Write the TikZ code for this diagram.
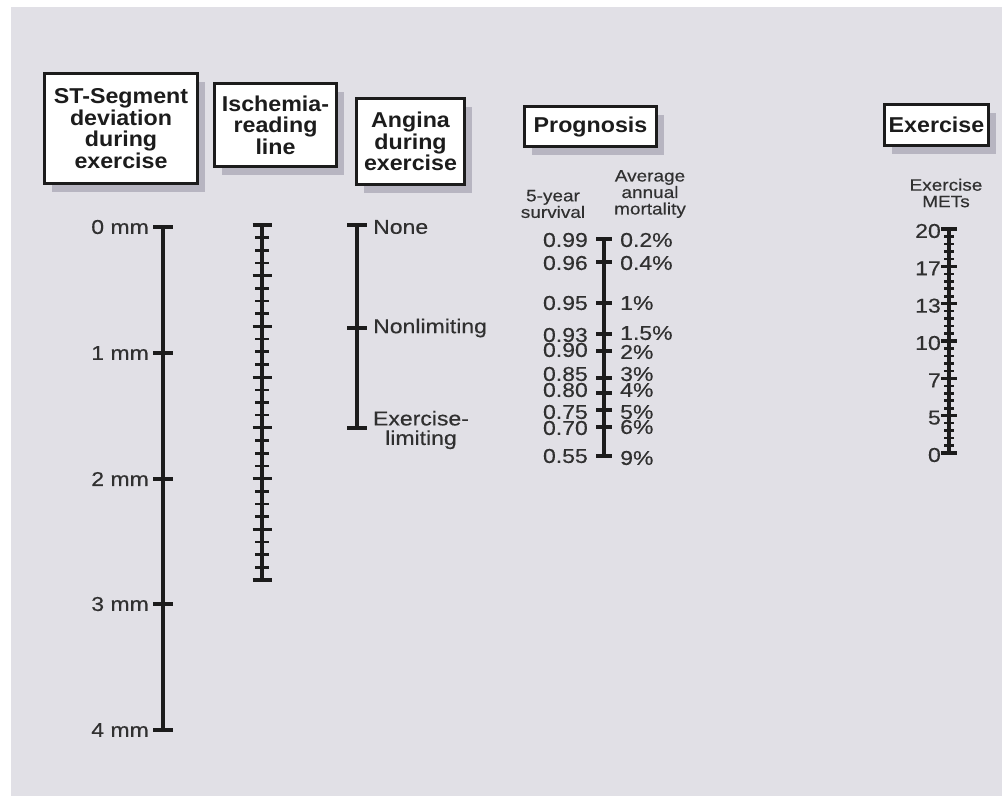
\documentclass[tikz,border=0pt]{standalone}
\usepackage{fontspec}
\setmainfont{Liberation Sans}[FakeStretch=1.15, FakeBold=0.4]
\newfontfamily\hdfont{Liberation Sans}[FakeStretch=1.08]
\usetikzlibrary{shadows}
\definecolor{panel}{HTML}{E1E0E6}
\definecolor{shade}{HTML}{B7B5C1}
\definecolor{ink}{HTML}{1C1C1C}
\definecolor{labelgray}{HTML}{303030}

\begin{document}
\begin{tikzpicture}[x=1pt,y=-1pt,
  hdbox/.style={draw=ink, line width=3.4pt, fill=white, align=center, inner sep=0pt,
    font=\hdfont\bfseries\fontsize{21.5}{21.5}\selectfont, text=ink,
    drop shadow={shadow xshift=7pt, shadow yshift=-8pt, fill=shade, opacity=1}},
  axis/.style={draw=ink, line width=4.2pt},
  tick/.style={draw=ink, line width=3.2pt},
  mtick/.style={draw=ink, line width=2.6pt},
  lbl/.style={inner sep=0pt, text=labelgray, font=\fontsize{20}{20}\selectfont},
  sub/.style={inner sep=0pt, align=center, text=labelgray, font=\fontsize{16.5}{16.5}\selectfont},
]
\useasboundingbox (0,0) rectangle (1002,796);
\fill[white] (0,0) rectangle (1002,796);
\fill[panel] (11,7) rectangle (1002,796);

% ---- header boxes
\node[hdbox, minimum width=153pt, minimum height=110pt] (hST) at (121,128.5)
  {ST-Segment\\deviation\\during\\exercise};
\node[hdbox, minimum width=122pt, minimum height=83pt] (hIsch) at (275.5,125)
  {Ischemia-\\reading\\line};
\node[hdbox, minimum width=108pt, minimum height=86pt] (hAng) at (410.5,141.5)
  {Angina\\during\\exercise};
\node[hdbox, minimum width=132pt, minimum height=40pt] (hProg) at (590.5,126.5)
  {Prognosis};
\node[hdbox, minimum width=104pt, minimum height=41pt] (hEx) at (936.5,125)
  {Exercise};

% ---- ST-segment deviation scale
\draw[axis] (163,227) -- (163,730);
\foreach \yy/\t [count=\k] in {227/0, 353/1, 479/2, 604/3, 730/4} {
  \draw[tick] (153,\yy) -- (173,\yy);
  \node[lbl, anchor=east] (st\k) at (149,\yy) {\t\ mm};
}

% ---- ischemia-reading line
\draw[axis] (262,225) -- (262,580);
\foreach \i in {0,...,28}
  \draw[mtick] (255,{225+\i*355/28}) -- (269,{225+\i*355/28});
\foreach \i in {0,...,7}
  \draw[tick] (252.5,{225+\i*355/7}) -- (271.5,{225+\i*355/7});

% ---- angina scale
\draw[axis] (357,225) -- (357,428);
\foreach \yy in {225,328,428}
  \draw[tick] (347,\yy) -- (367,\yy);
\node[lbl, anchor=west] (angNone) at (373,227) {None};
\node[lbl, anchor=west] (angNonlim) at (373,328) {Nonlimiting};
\node[lbl, align=center, font=\fontsize{20}{19.5}\selectfont] (angLim) at (421,430) {Exercise-\\limiting};

% ---- prognosis scale
\node[sub] (survHead) at (553,204) {5-year\\survival};
\node[sub] (mortHead) at (650,194) {Average\\annual\\mortality};
\draw[axis] (604,239) -- (604,456);
\foreach \yy in {239,262,303,334,351,378,393,410,427,456}
  \draw[tick] (596,\yy) -- (612,\yy);
\foreach \yy/\t [count=\k] in {240/0.99, 263/0.96, 303/0.95, 335/0.93, 350/0.90,
    374/0.85, 390/0.80, 412/0.75, 428/0.70, 456/0.55}
  \node[lbl, anchor=east] (surv\k) at (588,\yy) {\t};
\foreach \yy/\t [count=\k] in {240/0.2, 263/0.4, 303/1, 333/1.5, 352/2,
    374/3, 390/4, 412/5, 427/6, 458/9}
  \node[lbl, anchor=west] (mort\k) at (620,\yy) {\t\%};

% ---- exercise METs scale
\node[sub] (metHead) at (946,193) {Exercise\\METs};
\draw[axis] (949,229) -- (949,453);
\foreach \i in {0,...,30}
  \draw[mtick] (944,{229+\i*224/30}) -- (954,{229+\i*224/30});
\foreach \i/\t [count=\k] in {0/20, 1/17, 2/13, 3/10, 4/7, 5/5, 6/0} {
  \draw[tick] (941,{229+\i*224/6}) -- (957,{229+\i*224/6});
  \node[lbl, anchor=east] (met\k) at (941,{231+\i*224/6}) {\t};
}
\end{tikzpicture}
\end{document}
